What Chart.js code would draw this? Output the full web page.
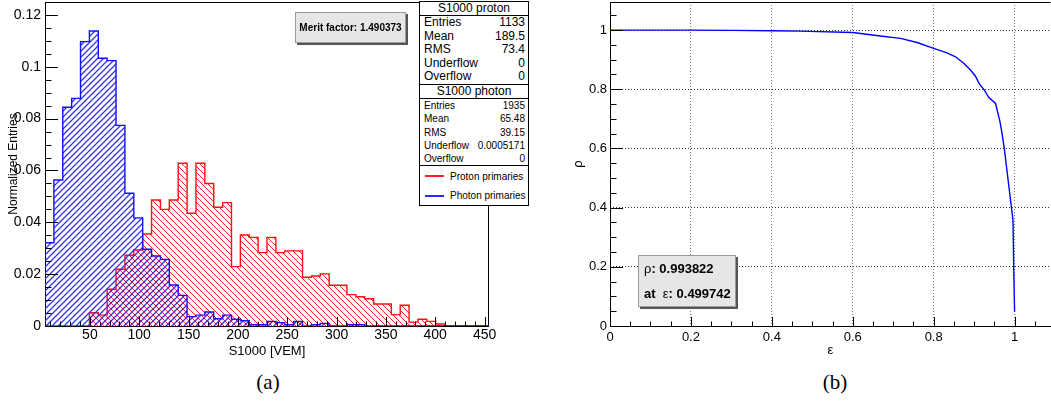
<!DOCTYPE html>
<html>
<head>
<meta charset="utf-8">
<script src="https://cdn.jsdelivr.net/npm/chart.js@4.4.1/dist/chart.umd.min.js"></script>
<style>
  body { margin: 0; width: 1051px; height: 418px; background: #fff; position: relative; overflow: hidden;
         font-family: "Liberation Sans", Arial, Helvetica, sans-serif; color: #000; }
  .wrap { position: absolute; top: 0; height: 370px; }
  #wrapA { left: 0; width: 540px; }
  #wrapB { left: 540px; width: 511px; }
  .stat { position: absolute; left: 419px; top: 1px; width: 110px; background: #fff; border: 1px solid #000; box-sizing: border-box; }
  .stat .ttl { height: 13px; line-height: 13px; font-size: 12px; text-align: center; border-bottom: 1px solid #000; }
  .stat .row { display: flex; justify-content: space-between; padding: 0 3px 0 4px; }
  .stat .big .row { height: 13.6px; line-height: 13.6px; font-size: 12px; }
  .stat .small .row { height: 13.3px; line-height: 13.3px; font-size: 10px; }
  .stat .sec { border-bottom: 1px solid #000; }
  .stat .leg { height: 19.5px; display: flex; align-items: center; font-size: 10px; }
  .stat .leg i { display: inline-block; width: 19px; height: 2px; margin: 0 6px 0 5px; }
  .note { position: absolute; background: #e6e6e6; border: 1px solid #9a9a9a; box-sizing: border-box;
          box-shadow: 2px 2px 0 #555; font-weight: bold; }
  #merit { left: 295px; top: 12px; width: 111px; height: 31px; font-size: 10px; line-height: 29px; text-align: center; }
  #best { left: 638px; top: 255px; width: 98px; height: 52px; font-size: 13px; padding-left: 5px; }
  #best div { height: 25px; line-height: 25px; }
  #best .sym { font-weight: normal; }
  .cap { position: absolute; top: 370px; font-family: "Liberation Serif", "DejaVu Serif", serif; font-size: 21px;
         width: 60px; text-align: center; }
</style>
</head>
<body>
<div class="wrap" id="wrapA"><canvas id="histChart"></canvas></div>
<div class="wrap" id="wrapB"><canvas id="rocChart"></canvas></div>

<div class="stat" id="statBox">
  <div class="sec big"><div class="ttl">S1000 proton</div><div id="protonRows"></div></div>
  <div class="sec small"><div class="ttl">S1000 photon</div><div id="photonRows"></div></div>
  <div class="leg"><i style="background:#ff2020"></i>Proton primaries</div>
  <div class="leg"><i style="background:#2a2aff"></i>Photon primaries</div>
</div>
<div class="note" id="merit">Merit factor: 1.490373</div>
<div class="note" id="best">
  <div><span class="sym">ρ</span>: 0.993822</div>
  <div>at&nbsp; <span class="sym">ε</span>: 0.499742</div>
</div>
<div class="cap" style="left:238px">(a)</div>
<div class="cap" style="left:805px">(b)</div>

<script>
// S1000 histograms, 50 bins of 9 VEM starting at 4.5
const binLow = 4.5;
const binWidth = 9;
const protonVals = [
  0, 0, 0, 0, 0, 0.0051, 0.0042, 0.0142, 0.0219, 0.0273,
  0.0293, 0.0355, 0.0486, 0.0450, 0.0486, 0.0628, 0.0435, 0.0628, 0.0550, 0.0458,
  0.0476, 0.0229, 0.0351, 0.0342, 0.0283, 0.0342, 0.0283, 0.0290, 0.0290, 0.0188,
  0.0193, 0.0201, 0.0157, 0.0157, 0.0121, 0.0113, 0.0105, 0.0085, 0.0085, 0.0044,
  0.0080, 0.0015, 0.0026, 0.0018, 0.0008, 0, 0, 0, 0, 0
];
const photonVals = [
  0.0321, 0.0563, 0.0844, 0.0878, 0.1097, 0.1138, 0.1033, 0.1024, 0.0774, 0.0512,
  0.0417, 0.0296, 0.0270, 0.0257, 0.0158, 0.0118, 0.0036, 0.0042, 0.0054, 0.0028,
  0.0042, 0.0026, 0.0020, 0.0005, 0.0005, 0.0018, 0.0013, 0.0005, 0.0018, 0,
  0.0005, 0.0010, 0, 0, 0.0005, 0.0005, 0, 0, 0, 0,
  0, 0, 0, 0, 0, 0, 0, 0, 0, 0
];
const histXTicks = [50, 100, 150, 200, 250, 300, 350, 400, 450];
const histYTicks = [0, 0.02, 0.04, 0.06, 0.08, 0.1, 0.12];

// rejection vs efficiency curve
const epsVals = [0, 0.1, 0.2, 0.3, 0.4, 0.47, 0.6, 0.668, 0.718, 0.759, 0.8, 0.833, 0.854, 0.875,
                 0.891, 0.903, 0.912, 0.924, 0.936, 0.953, 0.964, 0.969, 0.975, 0.982, 0.992, 0.996, 0.998, 1.0];
const rhoVals = [1, 1, 1, 0.999, 0.998, 0.9966, 0.992, 0.980, 0.972, 0.958, 0.938, 0.923, 0.910, 0.887,
                 0.865, 0.845, 0.820, 0.800, 0.773, 0.752, 0.690, 0.651, 0.595, 0.516, 0.403, 0.358, 0.189, 0.048];
const rocTicks = [0, 0.2, 0.4, 0.6, 0.8, 1];

const protonStats = [['Entries', '1133'], ['Mean', '189.5'], ['RMS', '73.4'], ['Underflow', '0'], ['Overflow', '0']];
const photonStats = [['Entries', '1935'], ['Mean', '65.48'], ['RMS', '39.15'], ['Underflow', '0.0005171'], ['Overflow', '0']];

function fillRows(id, rows) {
  document.getElementById(id).innerHTML = rows
    .map(r => '<div class="row"><span>' + r[0] + '</span><span>' + r[1] + '</span></div>').join('');
}
fillRows('protonRows', protonStats);
fillRows('photonRows', photonStats);

const FONT = '"Liberation Sans", Arial, Helvetica, sans-serif';
Chart.defaults.font.family = FONT;
Chart.defaults.color = '#000';

function hatch(color, rising, width) {
  const s = 6;
  const c = document.createElement('canvas');
  c.width = s; c.height = s;
  const g = c.getContext('2d');
  g.strokeStyle = color;
  g.lineWidth = width;
  g.beginPath();
  if (rising) {
    g.moveTo(0, s); g.lineTo(s, 0);
    g.moveTo(-1, 1); g.lineTo(1, -1);
    g.moveTo(s - 1, s + 1); g.lineTo(s + 1, s - 1);
  } else {
    g.moveTo(0, 0); g.lineTo(s, s);
    g.moveTo(-1, s - 1); g.lineTo(1, s + 1);
    g.moveTo(s - 1, -1); g.lineTo(s + 1, 1);
  }
  g.stroke();
  return g.createPattern(c, 'repeat');
}

function binPoints(vals) {
  const pts = vals.map((v, i) => ({ x: binLow + i * binWidth, y: v }));
  pts.push({ x: binLow + vals.length * binWidth, y: vals[vals.length - 1] });
  return pts;
}

// keep the plot area exactly where the layout padding puts it
function noPadY(s, w) { s.width = w; s.paddingTop = 0; s.paddingBottom = 0; }
function noPadX(s, h) { s.height = h; s.paddingLeft = 0; s.paddingRight = 0; }

// frame + inward ROOT-style tick marks
const rootAxes = {
  id: 'rootAxes',
  beforeDatasetsDraw(chart, args, o) {
    const { ctx, chartArea: a } = chart;
    ctx.save();
    ctx.strokeStyle = '#000';
    ctx.lineWidth = 1;
    ctx.beginPath();
    ctx.moveTo(a.left + 0.5, a.bottom + 0.5);
    ctx.lineTo(a.left + 0.5, a.top + 0.5);
    ctx.lineTo(a.right - 0.5, a.top + 0.5);
    if (o.closeRight) ctx.lineTo(a.right - 0.5, a.bottom + 0.5);
    ctx.moveTo(a.left, a.bottom + 0.5);
    ctx.lineTo(a.right, a.bottom + 0.5);
    ctx.stroke();
    ctx.restore();
  },
  afterDatasetsDraw(chart, args, o) {
    const { ctx, chartArea: a, scales } = chart;
    ctx.save();
    ctx.strokeStyle = '#000';
    ctx.lineWidth = 1;
    ctx.beginPath();
    const marks = (scale, step) => {
      const majors = scale.ticks.map(t => t.value);
      const out = [];
      for (let k = Math.ceil(scale.min / step - 1e-9); k * step <= scale.max + 1e-9; k++) {
        const v = k * step;
        out.push({ v, major: majors.some(m => Math.abs(m - v) < step / 100) });
      }
      return out;
    };
    marks(scales.x, o.xStep).forEach(m => {
      const px = Math.round(scales.x.getPixelForValue(m.v)) + 0.5;
      ctx.moveTo(px, a.bottom);
      ctx.lineTo(px, a.bottom - (m.major ? o.xLen : o.xLen / 2));
    });
    marks(scales.y, o.yStep).forEach(m => {
      const py = Math.round(scales.y.getPixelForValue(m.v)) + 0.5;
      ctx.moveTo(a.left, py);
      ctx.lineTo(a.left + (m.major ? o.yLen : o.yLen / 2), py);
    });
    ctx.stroke();
    ctx.restore();
  }
};

const plainNum = v => String(v);

new Chart(document.getElementById('histChart'), {
  type: 'line',
  data: {
    datasets: [
      {
        label: 'Photon primaries',
        data: binPoints(photonVals),
        stepped: 'before',
        borderColor: '#1010ff',
        borderWidth: 1.4,
        backgroundColor: hatch('#3030ff', true, 1.25),
        fill: 'origin',
        pointRadius: 0
      },
      {
        label: 'Proton primaries',
        data: binPoints(protonVals),
        stepped: 'before',
        borderColor: '#ff1010',
        borderWidth: 1.4,
        backgroundColor: hatch('#ff2020', false, 1),
        fill: 'origin',
        pointRadius: 0
      }
    ]
  },
  options: {
    responsive: true,
    maintainAspectRatio: false,
    animation: false,
    layout: { padding: { top: 2, right: 51, left: 0, bottom: 0 } },
    plugins: {
      legend: { display: false },
      tooltip: { enabled: false },
      rootAxes: { xStep: 10, xLen: 9, yStep: 0.005, yLen: 13, closeRight: true }
    },
    scales: {
      x: {
        type: 'linear',
        min: binLow,
        max: binLow + photonVals.length * binWidth,
        afterBuildTicks: s => { s.ticks = histXTicks.map(v => ({ value: v })); },
        afterFit: s => noPadX(s, 44),
        grid: { display: false, drawTicks: false },
        border: { display: false },
        ticks: { font: { size: 14 }, padding: 1, maxRotation: 0, autoSkip: false, callback: plainNum },
        title: { display: true, text: 'S1000 [VEM]', font: { size: 13 }, padding: { top: 0, bottom: 11 } }
      },
      y: {
        type: 'linear',
        min: 0,
        max: 0.125,
        afterBuildTicks: s => { s.ticks = histYTicks.map(v => ({ value: v })); },
        afterFit: s => noPadY(s, 45),
        grid: { display: false, drawTicks: false },
        border: { display: false },
        ticks: { font: { size: 14 }, padding: 4, autoSkip: false, callback: plainNum },
        title: { display: true, text: 'Normalized Entries', font: { size: 12 }, padding: { top: 6, bottom: 0 } }
      }
    }
  },
  plugins: [rootAxes]
});

new Chart(document.getElementById('rocChart'), {
  type: 'line',
  data: {
    datasets: [{
      label: 'rho vs eps',
      data: epsVals.map((e, i) => ({ x: e, y: rhoVals[i] })),
      borderColor: '#0000ff',
      borderWidth: 1.4,
      pointRadius: 0,
      tension: 0,
      fill: false
    }]
  },
  options: {
    responsive: true,
    maintainAspectRatio: false,
    animation: false,
    layout: { padding: { top: 2, right: 0, left: 0, bottom: 0 } },
    plugins: {
      legend: { display: false },
      tooltip: { enabled: false },
      rootAxes: { xStep: 0.05, xLen: 9, yStep: 0.05, yLen: 13, closeRight: false }
    },
    scales: {
      x: {
        type: 'linear',
        min: 0,
        max: 1.09,
        afterBuildTicks: s => { s.ticks = rocTicks.map(v => ({ value: v })); },
        afterFit: s => noPadX(s, 44),
        grid: { display: true, drawTicks: false, color: '#777', lineWidth: 1 },
        border: { display: false, dash: [1, 2] },
        ticks: { font: { size: 13 }, padding: 4, maxRotation: 0, autoSkip: false, callback: plainNum },
        title: { display: true, text: 'ε', font: { size: 13 }, padding: { top: 0, bottom: 12 } }
      },
      y: {
        type: 'linear',
        min: 0,
        max: 1.095,
        afterBuildTicks: s => { s.ticks = rocTicks.map(v => ({ value: v })); },
        afterFit: s => noPadY(s, 70),
        grid: { display: true, drawTicks: false, color: '#333', lineWidth: 1 },
        border: { display: false, dash: [1, 2] },
        ticks: { font: { size: 13 }, padding: 3, autoSkip: false, callback: plainNum },
        title: { display: true, text: 'ρ', font: { size: 13 }, padding: { top: 31, bottom: 0 } }
      }
    }
  },
  plugins: [rootAxes]
});
</script>
</body>
</html>
